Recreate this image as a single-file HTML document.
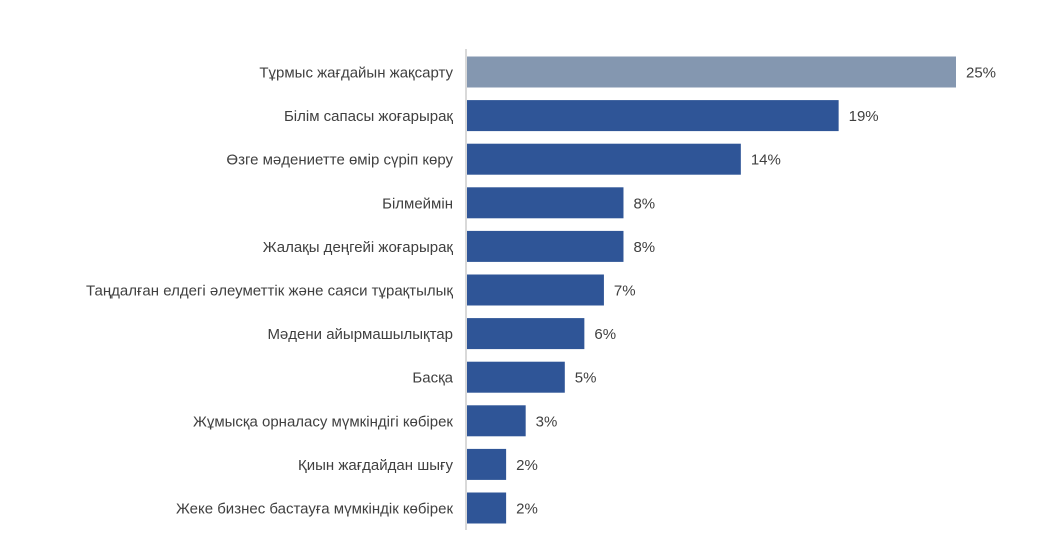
<!DOCTYPE html>
<html><head><meta charset="utf-8"><style>
body{margin:0;background:#fff;}
svg{display:block;font-family:"Liberation Sans",Arial,sans-serif;}
</style></head><body>
<svg id="chart" width="1042" height="545">
<line x1="466" y1="49" x2="466" y2="530" stroke="#d9d9d9" stroke-width="2"/>
</svg>
<script>
const categories=["Тұрмыс жағдайын жақсарту","Білім сапасы жоғарырақ","Өзге мәдениетте өмір сүріп көру","Білмеймін","Жалақы деңгейі жоғарырақ","Таңдалған елдегі әлеуметтік және саяси тұрақтылық","Мәдени айырмашылықтар","Басқа ","Жұмысқа орналасу мүмкіндігі көбірек","Қиын жағдайдан шығу","Жеке бизнес бастауға мүмкіндік көбірек"];
const values=[25,19,14,8,8,7,6,5,3,2,2];
const labels=["25%","19%","14%","8%","8%","7%","6%","5%","3%","2%","2%"];
const svg=document.getElementById('chart');
const NS='http://www.w3.org/2000/svg';
const x=v=>467+v*19.56;
const y=i=>72+i*43.6;
values.forEach((v,i)=>{
  const r=document.createElementNS(NS,'rect');
  r.setAttribute('x',467);r.setAttribute('y',y(i)-15.5);
  r.setAttribute('width',x(v)-467);r.setAttribute('height',31);
  r.setAttribute('fill',i===0?'#8497b0':'#2f5597');
  
  
  svg.appendChild(r);
  const t=document.createElementNS(NS,'text');
  t.setAttribute('x',x(v)+10);t.setAttribute('y',y(i)+5.5);
  t.setAttribute('font-size','15');t.setAttribute('fill','#404040');
  t.textContent=labels[i];
  
  
  svg.appendChild(t);
  const c=document.createElementNS(NS,'text');
  c.setAttribute('x',453);c.setAttribute('y',y(i)+5.5);
  c.setAttribute('font-size','15');c.setAttribute('fill','#404040');
  c.setAttribute('text-anchor','end');
  c.textContent=categories[i];
  
  
  svg.appendChild(c);
});
</script>
</body></html>
